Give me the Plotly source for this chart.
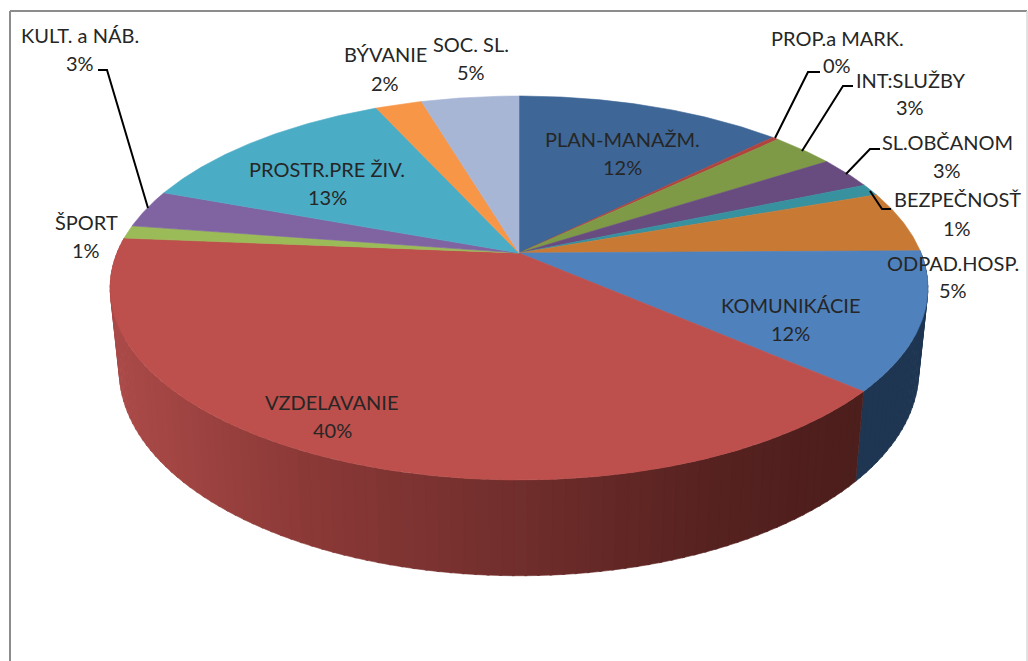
import numpy as np
import plotly.graph_objects as go

# ---------- data ----------
categories = ["PLAN-MANAŽM.", "PROP.a MARK.", "INT:SLUŽBY", "SL.OBČANOM", "BEZPEČNOSŤ",
              "ODPAD.HOSP.", "KOMUNIKÁCIE", "VZDELAVANIE", "ŠPORT", "KULT. a NÁB.",
              "PROSTR.PRE ŽIV.", "BÝVANIE", "SOC. SL."]
values = [12.6, 0.3, 3.0, 2.7, 1.0, 5.2, 11.6, 39.9, 1.1, 3.2, 12.6, 2.2, 4.6]
percent_labels = ["12%", "0%", "3%", "3%", "1%", "5%", "12%", "40%", "1%", "3%", "13%", "2%", "5%"]

# ---------- styles ----------
top_colors = ["#3e6797", "#b0453f", "#7f9a46", "#684c80", "#38919f", "#c87a35", "#4f81bd",
              "#bd4f4c", "#9bbb59", "#8064a2", "#4bacc6", "#f79646", "#a8b6d6"]
name_pos = [(622, 139), (837, 38), (910, 80), (947, 142), (957, 199), (953, 263), (790, 305),
            (332, 402), (86, 222), (80, 35), (327, 169), (385, 54), (471, 44)]
pct_pos = [(622, 167), (837, 65), (910, 107), (947, 170), (957, 228), (953, 290), (790, 333),
           (332, 430), (86, 250), (80, 63), (327, 197), (385, 83), (471, 72)]
leaders = [[(98, 70), (107, 70), (148, 208)],
           [(820, 72), (808, 72), (775, 138)],
           [(853, 86), (843, 86), (802, 151)],
           [(880, 149), (870, 149), (846, 174)],
           [(870, 191), (882, 209), (891, 209)]]

CX = 519
K = 0.1823
TOP = dict(a=402.0, b=185.6, y0=253.0)
BOT = dict(a=393.0, b=198.0, y0=333.6)


def rim(theta_deg, g):
    t = np.radians(theta_deg)
    w = 1 + K * np.cos(t)
    return CX + g["a"] * np.sin(t) / w, g["y0"] - g["b"] * np.cos(t) / w


cum = np.concatenate([[0], np.cumsum(values)]) / sum(values) * 360.0
fig = go.Figure()


def poly(xs, ys, color):
    fig.add_trace(go.Scatter(x=list(xs), y=list(ys), mode="lines", fill="toself", fillcolor=color,
                             line=dict(color=color, width=0.6), hoverinfo="skip", showlegend=False))


def lerp_color(x, stops):
    xs = [s[0] for s in stops]
    return "rgb(%d,%d,%d)" % tuple(np.interp(x, xs, [s[1][i] for s in stops]) for i in range(3))


red_stops = [(120, (170, 74, 72)), (300, (140, 58, 56)), (520, (112, 46, 44)),
             (700, (88, 35, 33)), (860, (76, 30, 28))]
blue_stops = [(860, (30, 54, 82)), (930, (30, 54, 82))]

# side walls of the two front slices, drawn back-to-front
for idx, stops in ((6, blue_stops), (7, red_stops)):
    edges = np.arange(cum[idx], cum[idx + 1] + 1.5, 1.5)
    edges[-1] = cum[idx + 1]
    order = range(len(edges) - 1)
    for i in order:
        t0, t1 = edges[i], min(edges[i + 1] + 0.3, cum[idx + 1])
        x0, y0 = rim(t0, TOP)
        x1, y1 = rim(t1, TOP)
        x2, y2 = rim(t1, BOT)
        x3, y3 = rim(t0, BOT)
        poly([x0, x1, x2, x3, x0], [y0, y1, y2, y3, y0], lerp_color((x0 + x1) / 2, stops))

# top face
for i, color in enumerate(top_colors):
    th = np.linspace(cum[i], cum[i + 1], max(int(cum[i + 1] - cum[i]) * 2, 6))
    rx, ry = rim(th, TOP)
    poly(np.r_[CX, rx, CX], np.r_[TOP["y0"], ry, TOP["y0"]], color)

# leader lines
for pts in leaders:
    fig.add_trace(go.Scatter(x=[p[0] for p in pts], y=[p[1] for p in pts], mode="lines",
                             line=dict(color="#000000", width=2), hoverinfo="skip", showlegend=False))

ann = []
font = dict(family="Lato, Carlito, sans-serif", size=20, color="#262626")
for name, pct, np_, pp in zip(categories, percent_labels, name_pos, pct_pos):
    ann.append(dict(x=np_[0], y=np_[1], text=name, showarrow=False, font=font, xanchor="center", yanchor="middle"))
    ann.append(dict(x=pp[0], y=pp[1], text=pct, showarrow=False, font=font, xanchor="center", yanchor="middle"))

shapes = [
    dict(type="line", x0=10, x1=10, y0=11, y1=661, line=dict(color="#8c8c8c", width=2)),
    dict(type="line", x0=10, x1=1027, y0=11, y1=11, line=dict(color="#8c8c8c", width=2)),
    dict(type="line", x0=1027, x1=1027, y0=11, y1=661, line=dict(color="#d9d9d9", width=1.5)),
]

fig.update_layout(
    width=1028, height=661, margin=dict(l=0, r=0, t=0, b=0),
    paper_bgcolor="white", plot_bgcolor="white", showlegend=False,
    xaxis=dict(range=[0, 1028], visible=False, fixedrange=True),
    yaxis=dict(range=[661, 0], visible=False, fixedrange=True),
    annotations=ann, shapes=shapes,
)
fig.write_html("out.html", config=dict(displayModeBar=False),
               post_script="document.body.style.margin='0';document.body.style.overflow='hidden';")
